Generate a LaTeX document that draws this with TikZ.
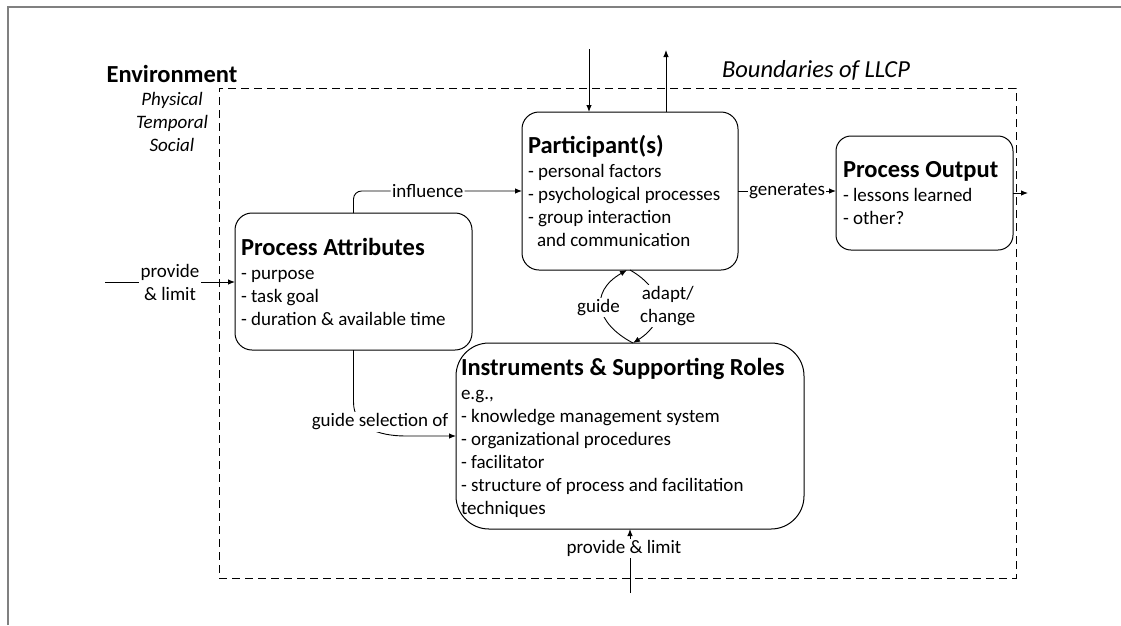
\documentclass[tikz,border=0pt]{standalone}
\usepackage{fontspec}
\setmainfont{Carlito}
\usetikzlibrary{arrows.meta,calc}
\newcommand\bodyfont{\fontsize{19}{23}\selectfont}
\newcommand\titlefont{\bfseries\fontsize{24.5}{28}\selectfont}
\begin{document}
\begin{tikzpicture}[x=1pt,y=-1pt,
  every node/.style={inner sep=0pt, outer sep=0pt},
  frame/.style={draw=black!50, line width=1.5pt},
  bound/.style={draw, line width=0.9pt, dash pattern=on 8pt off 5pt},
  box/.style={draw, line width=1pt, rounded corners=17pt, anchor=north west},
  conn/.style={line width=0.9pt, -{Latex[length=7pt,width=5.5pt]}},
  lbl/.style={fill=white, inner sep=1.5pt, font=\bodyfont, align=center},
  blk/.style={anchor=north west, align=left, font=\bodyfont},
]
\useasboundingbox (0,0) rectangle (1121,625);
\draw[frame] (8,625) -- (8,7) -- (1121,7);

% boundary
\node[bound, minimum width=797pt, minimum height=490pt, anchor=north west] (llcp) at (219,88) {};
\node[font=\itshape\fontsize{24.5}{28}\selectfont, anchor=base west] (btitle) at (722,77) {Boundaries of LLCP};
\node[font=\titlefont, anchor=base] (env) at (172,82) {Environment};
\node[font=\itshape\bodyfont, align=center, anchor=north] (envsub) at (172,89) {\rule{0pt}{16pt}Physical\\Temporal\\Social};

% boxes
\node[box, minimum width=237pt, minimum height=137pt] (pa) at (235,213) {};
\node[box, minimum width=216pt, minimum height=158pt] (part) at (522,112) {};
\node[box, minimum width=177pt, minimum height=114pt, rounded corners=15pt] (out) at (836,136) {};
\node[box, minimum width=348pt, minimum height=186pt, rounded corners=33pt] (inst) at (456,343) {};

% box texts
\node[blk] (patxt) at (241,235) {\rule{0pt}{20pt}{\titlefont Process Attributes}\\[1.5pt] - purpose\\ - task goal\\ - duration \& available time};
\node[blk] (parttxt) at (528,133) {\rule{0pt}{20pt}{\titlefont Participant(s)}\\[1.5pt] - personal factors\\ - psychological processes\\ - group interaction\\ \hspace*{9pt}and communication};
\node[blk] (outtxt) at (843,157) {\rule{0pt}{20pt}{\titlefont Process Output}\\[1.5pt] - lessons learned\\ - other?};
\node[blk] (insttxt) at (461,355) {\rule{0pt}{20pt}{\titlefont Instruments \& Supporting Roles}\\[1.5pt] e.g.,\\ - knowledge management system\\ - organizational procedures\\ - facilitator\\ - structure of process and facilitation\\ techniques};

% connectors
\coordinate (pin) at (589,49);
\coordinate (pout) at (666,50);
\draw[conn] (pin) -- (pin |- part.north);
\draw[conn] (pout |- part.north) -- (pout);

\draw[conn, rounded corners=8pt] (pa.north) |- node[lbl, pos=0.72] (linf) {influence} (part.west);

\coordinate (plin) at (105,282);
\draw[conn] (plin) -- node[lbl] (lpl) {provide\\\& limit} (plin -| pa.west);

\draw[conn] (pa.south) -- ++(0,52) .. controls +(0,25) and +(-28,0) .. ($(inst.west)+(-50,0)$) -- (inst.west);
\node[lbl] (lgs) at (380,422) {guide selection of};

\draw[conn] (part.east) -- node[lbl] (lgen) {generates} (part.east -| out.west);

\coordinate (oend) at (1028,193);
\draw[conn] (out.east) -- (oend);

\draw[conn] ([xshift=3pt]inst.north) .. controls +(-38,-20) and +(-38,22) .. node[lbl, pos=0.5, xshift=-3pt] (lguide) {guide} ([xshift=-3pt]part.south);
\draw[conn] (part.south) .. controls +(35,20) and +(35,-22) .. node[lbl, pos=0.5, xshift=10pt] (ladapt) {adapt/\\change} ([xshift=3pt]inst.north);

\coordinate (pbin) at (630,593);
\draw[conn] (pbin) -- node[lbl, pos=0.7, xshift=-6pt] (lpb) {provide \& limit} (inst.south);
\end{tikzpicture}
\end{document}
